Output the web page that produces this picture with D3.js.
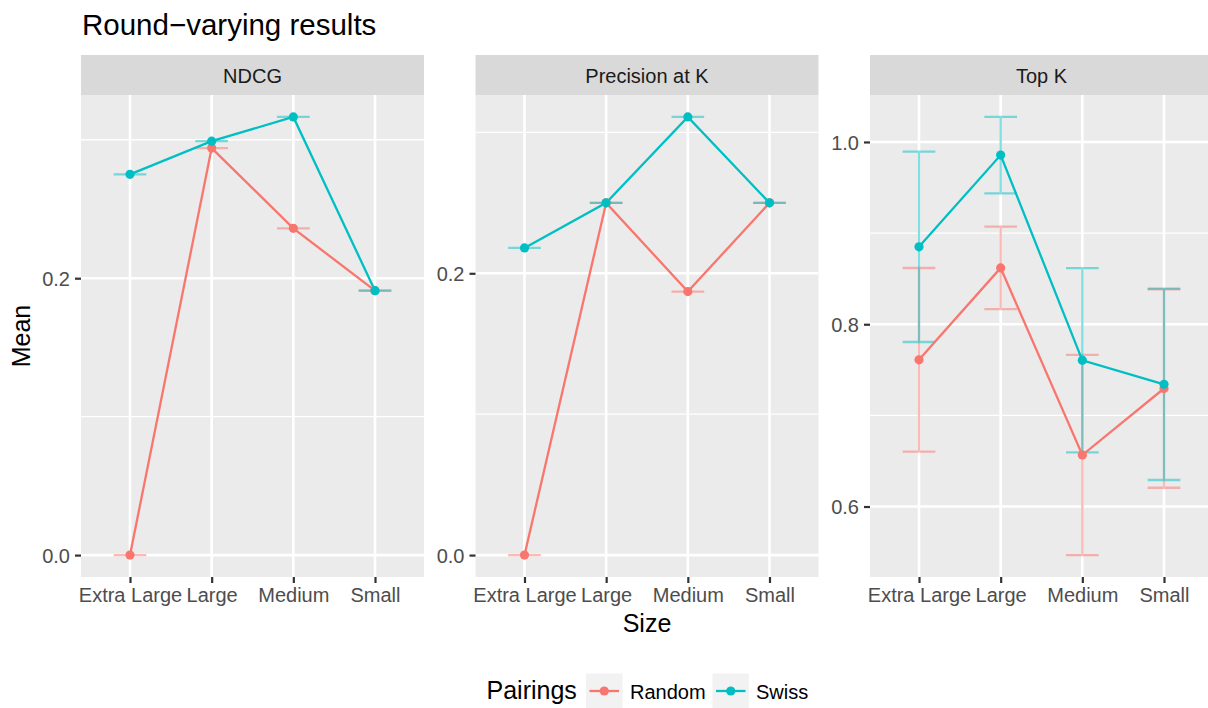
<!DOCTYPE html>
<html>
<head>
<meta charset="utf-8">
<script src="https://cdn.jsdelivr.net/npm/d3@7"></script>
<style>
  html, body { margin: 0; padding: 0; background: #ffffff; }
  svg text { font-family: "Liberation Sans", Arial, Helvetica, sans-serif; }
</style>
</head>
<body>
<svg id="chart" width="1208" height="708"></svg>
<script>
// Categories and facets
const sizes = ["Extra Large", "Large", "Medium", "Small"];
const metrics = ["NDCG", "Precision at K", "Top K"];
const pairings = ["Random", "Swiss"];

// Mean per size, one array per metric and pairing
const ndcgRandom = [0.0, 0.294, 0.236, 0.191];
const ndcgSwiss = [0.275, 0.299, 0.3165, 0.191];
const precisionRandom = [0.0, 0.25, 0.187, 0.25];
const precisionSwiss = [0.218, 0.25, 0.311, 0.25];
const topKRandom = [0.761, 0.8618, 0.6565, 0.7295];
const topKSwiss = [0.885, 0.9856, 0.7604, 0.7341];

// Error-bar half widths (standard error)
const ndcgRandomErr = [0, 0, 0, 0];
const ndcgSwissErr = [0, 0, 0, 0];
const precisionRandomErr = [0, 0, 0, 0];
const precisionSwissErr = [0, 0, 0, 0];
const topKRandomErr = [0.1007, 0.0453, 0.1098, 0.1089];
const topKSwissErr = [0.1045, 0.0419, 0.1011, 0.105];

// Axis breaks per facet
const ndcgTicks = [0.0, 0.2];
const ndcgMinor = [0.1, 0.3];
const precisionTicks = [0.0, 0.2];
const precisionMinor = [0.1, 0.3];
const topKTicks = [0.6, 0.8, 1.0];
const topKMinor = [0.7, 0.9];

const colors = { Random: "#F8766D", Swiss: "#00BFC4" };

const panels = [
  { name: metrics[0], series: { Random: [ndcgRandom, ndcgRandomErr], Swiss: [ndcgSwiss, ndcgSwissErr] }, ticks: ndcgTicks, minor: ndcgMinor },
  { name: metrics[1], series: { Random: [precisionRandom, precisionRandomErr], Swiss: [precisionSwiss, precisionSwissErr] }, ticks: precisionTicks, minor: precisionMinor },
  { name: metrics[2], series: { Random: [topKRandom, topKRandomErr], Swiss: [topKSwiss, topKSwissErr] }, ticks: topKTicks, minor: topKMinor }
];

const svg = d3.select("#chart");

// Layout
const panelLefts = [81, 475.5, 870];
const panelW = 343;
const stripTop = 55, panelTop = 95, panelBottom = 577;

// Title
svg.append("text")
  .attr("x", 82).attr("y", 35)
  .attr("font-size", 29.5).attr("fill", "#000")
  .text("Round\u2212varying results");

panels.forEach((p, i) => {
  const x0 = panelLefts[i];
  const g = svg.append("g");

  // Strip
  g.append("rect").attr("x", x0).attr("y", stripTop)
    .attr("width", panelW).attr("height", panelTop - stripTop).attr("fill", "#D9D9D9");
  g.append("text").attr("x", x0 + panelW / 2).attr("y", 82.5)
    .attr("text-anchor", "middle").attr("font-size", 20).attr("fill", "#1A1A1A")
    .text(p.name);

  // Panel background
  g.append("rect").attr("x", x0).attr("y", panelTop)
    .attr("width", panelW).attr("height", panelBottom - panelTop).attr("fill", "#EBEBEB");

  // Scales
  const x = d3.scalePoint().domain(sizes).range([x0, x0 + panelW]).padding(0.6);
  let lo = Infinity, hi = -Infinity;
  pairings.forEach(k => {
    const [m, e] = p.series[k];
    m.forEach((v, j) => { lo = Math.min(lo, v - e[j]); hi = Math.max(hi, v + e[j]); });
  });
  const pad = (hi - lo) * 0.05;
  const y = d3.scaleLinear().domain([lo - pad, hi + pad]).range([panelBottom, panelTop]);

  // Grid
  g.selectAll(".minor").data(p.minor).enter().append("line")
    .attr("x1", x0).attr("x2", x0 + panelW)
    .attr("y1", d => y(d)).attr("y2", d => y(d))
    .attr("stroke", "#fff").attr("stroke-width", 1.3);
  g.selectAll(".major").data(p.ticks).enter().append("line")
    .attr("x1", x0).attr("x2", x0 + panelW)
    .attr("y1", d => y(d)).attr("y2", d => y(d))
    .attr("stroke", "#fff").attr("stroke-width", 2.6);
  g.selectAll(".vgrid").data(sizes).enter().append("line")
    .attr("x1", d => x(d)).attr("x2", d => x(d))
    .attr("y1", panelTop).attr("y2", panelBottom)
    .attr("stroke", "#fff").attr("stroke-width", 2.6);

  // Axes
  const yAxis = g.append("g").attr("transform", `translate(${x0},0)`)
    .call(d3.axisLeft(y).tickValues(p.ticks).tickFormat(d3.format(".1f")).tickSize(6).tickPadding(5));
  const xAxis = g.append("g").attr("transform", `translate(0,${panelBottom})`)
    .call(d3.axisBottom(x).tickSize(6).tickPadding(5));
  [yAxis, xAxis].forEach(a => {
    a.select(".domain").remove();
    a.selectAll(".tick line").attr("stroke", "#333333").attr("stroke-width", 2.2);
    a.selectAll(".tick text").attr("fill", "#4D4D4D").attr("font-size", 20)
      .attr("font-family", "\"Liberation Sans\", Arial, Helvetica, sans-serif");
  });
  yAxis.selectAll(".tick text").attr("dy", "0.36em");

  const cap = x.step() * 0.2;

  // Error bars
  pairings.forEach(k => {
    const [m, e] = p.series[k];
    const eb = g.append("g").attr("stroke", colors[k]).attr("stroke-width", 2.3)
      .attr("stroke-opacity", 0.5).attr("fill", "none");
    sizes.forEach((s, j) => {
      const cx = x(s), yl = y(m[j] - e[j]), yh = y(m[j] + e[j]);
      eb.append("path").attr("d", `M${cx - cap},${yh}H${cx + cap}M${cx},${yh}V${yl}M${cx - cap},${yl}H${cx + cap}`);
    });
  });

  // Lines
  const line = d3.line().x((d, j) => x(sizes[j])).y(d => y(d));
  pairings.forEach(k => {
    g.append("path").datum(p.series[k][0]).attr("d", line)
      .attr("fill", "none").attr("stroke", colors[k]).attr("stroke-width", 2.3);
  });

  // Points
  pairings.forEach(k => {
    g.selectAll(null).data(p.series[k][0]).enter().append("circle")
      .attr("cx", (d, j) => x(sizes[j])).attr("cy", d => y(d)).attr("r", 4.6)
      .attr("fill", colors[k]);
  });
});

// Axis titles
svg.append("text").attr("x", 647).attr("y", 632).attr("text-anchor", "middle")
  .attr("font-size", 25).attr("fill", "#000").text("Size");
svg.append("text").attr("transform", `translate(30,${(panelTop + panelBottom) / 2}) rotate(-90)`)
  .attr("text-anchor", "middle").attr("font-size", 25).attr("fill", "#000").text("Mean");

// Legend
const legend = svg.append("g");
legend.append("text").attr("x", 486.5).attr("y", 699).attr("font-size", 25).attr("fill", "#000").text("Pairings");
const keyX = [586, 712.5];
const labelX = [630, 756];
pairings.forEach((k, i) => {
  legend.append("rect").attr("x", keyX[i]).attr("y", 673.5).attr("width", 36.5).attr("height", 34.5).attr("fill", "#F2F2F2");
  legend.append("line").attr("x1", keyX[i] + 3.5).attr("x2", keyX[i] + 33).attr("y1", 691).attr("y2", 691)
    .attr("stroke", colors[k]).attr("stroke-width", 2.3);
  legend.append("circle").attr("cx", keyX[i] + 18.25).attr("cy", 691).attr("r", 4.6).attr("fill", colors[k]);
  legend.append("text").attr("x", labelX[i]).attr("y", 699).attr("font-size", 20).attr("fill", "#000").text(k);
});
</script>
</body>
</html>
